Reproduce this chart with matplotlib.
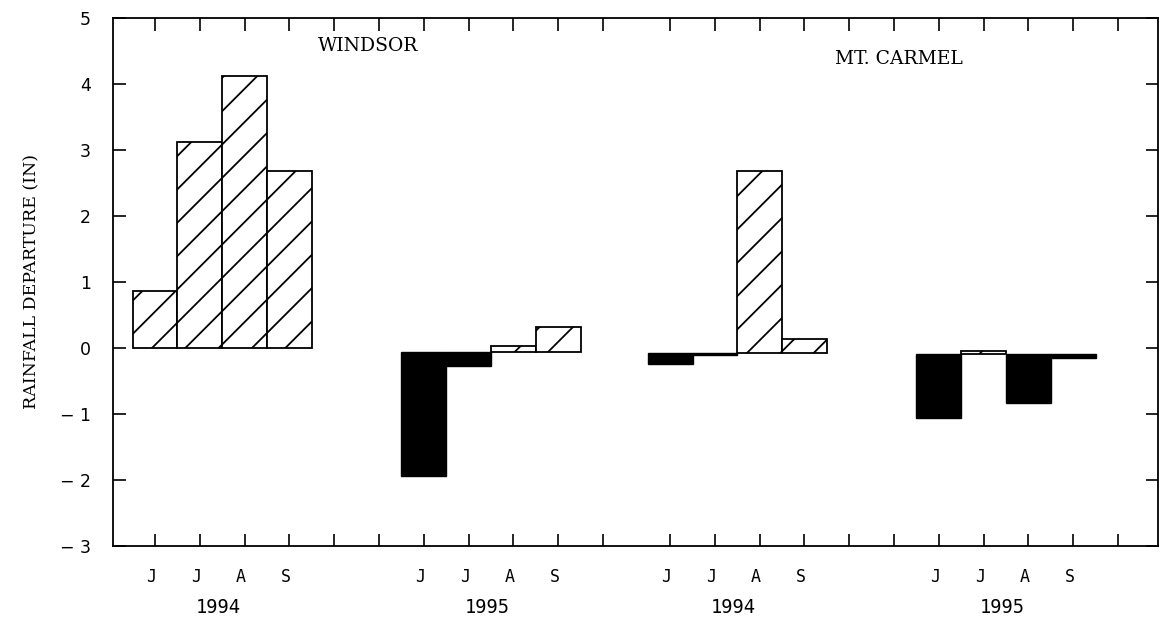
import matplotlib.pyplot as plt
import numpy as np

plt.rcParams['font.family'] = ['DejaVu Sans']
plt.rcParams['hatch.linewidth'] = 1.3

# Data: rainfall departure (in), Jun-Sep, per station/year
months = ['J', 'J', 'A', 'S']
years = ['1994', '1995', '1994', '1995']
stations = ['WINDSOR', 'MT. CARMEL']

windsor_1994 = [0.86, 3.12, 4.12, 2.68]
windsor_1995 = [-1.95, -0.28, 0.03, 0.32]
carmel_1994 = [-0.24, -0.11, 2.68, 0.14]
carmel_1995 = [-1.07, -0.05, -0.83, -0.15]
groups = [windsor_1994, windsor_1995, carmel_1994, carmel_1995]

# layout of the groups on the x axis (style, not data)
group_start = [0, 6, 11.5, 17.5]
baseline = [0.0, -0.06, -0.08, -0.09]

fig = plt.figure(figsize=(11.59, 6.23), dpi=100)
ax = fig.add_axes([0.0975, 0.124, 0.9015, 0.847])

for g, vals in enumerate(groups):
    x = group_start[g] + np.arange(len(vals))
    for xi, v in zip(x, vals):
        b = baseline[g]
        if v >= b:
            ax.bar(xi, v - b, bottom=b, width=1.0, facecolor='white',
                   edgecolor='black', hatch='/', linewidth=1.3)
        else:
            ax.bar(xi, v - b, bottom=b, width=1.0, facecolor='black',
                   edgecolor='black', linewidth=1.0)
    for xi, m in zip(x - 0.08, months):
        ax.text(xi, -3.48, m, ha='center', va='center', fontsize=12,
                family='DejaVu Sans Mono')
    ax.text(x.mean() - 0.08, -3.94, years[g], ha='center', va='center',
            fontsize=13.5, family='DejaVu Sans Mono')

ax.text(4.75, 4.58, stations[0], ha='center', va='center', fontsize=13.5,
        family='DejaVu Serif')
ax.text(16.6, 4.38, stations[1], ha='center', va='center', fontsize=13.5,
        family='DejaVu Serif')

ax.set_xlim(-0.94, 22.39)
ax.set_ylim(-3, 5)
ax.set_yticks(np.arange(-3, 6))
ax.set_yticklabels([str(v).replace('-', '\u2212 ') for v in range(-3, 6)], fontsize=12.5)
xt = list(np.arange(0, 11)) + list(np.arange(11.5, 22.0, 1.0))
ax.set_xticks(xt)
ax.set_xticklabels([])
ax.tick_params(axis='both', direction='in', top=True, right=True,
               length=9, width=1.2)
ax.tick_params(axis='y', pad=16)
for s in ax.spines.values():
    s.set_linewidth(1.3)

ax.set_ylabel('RAINFALL DEPARTURE (IN)', fontsize=12.5, family='DejaVu Serif',
              labelpad=14)

fig.savefig('out.png', dpi=100)
